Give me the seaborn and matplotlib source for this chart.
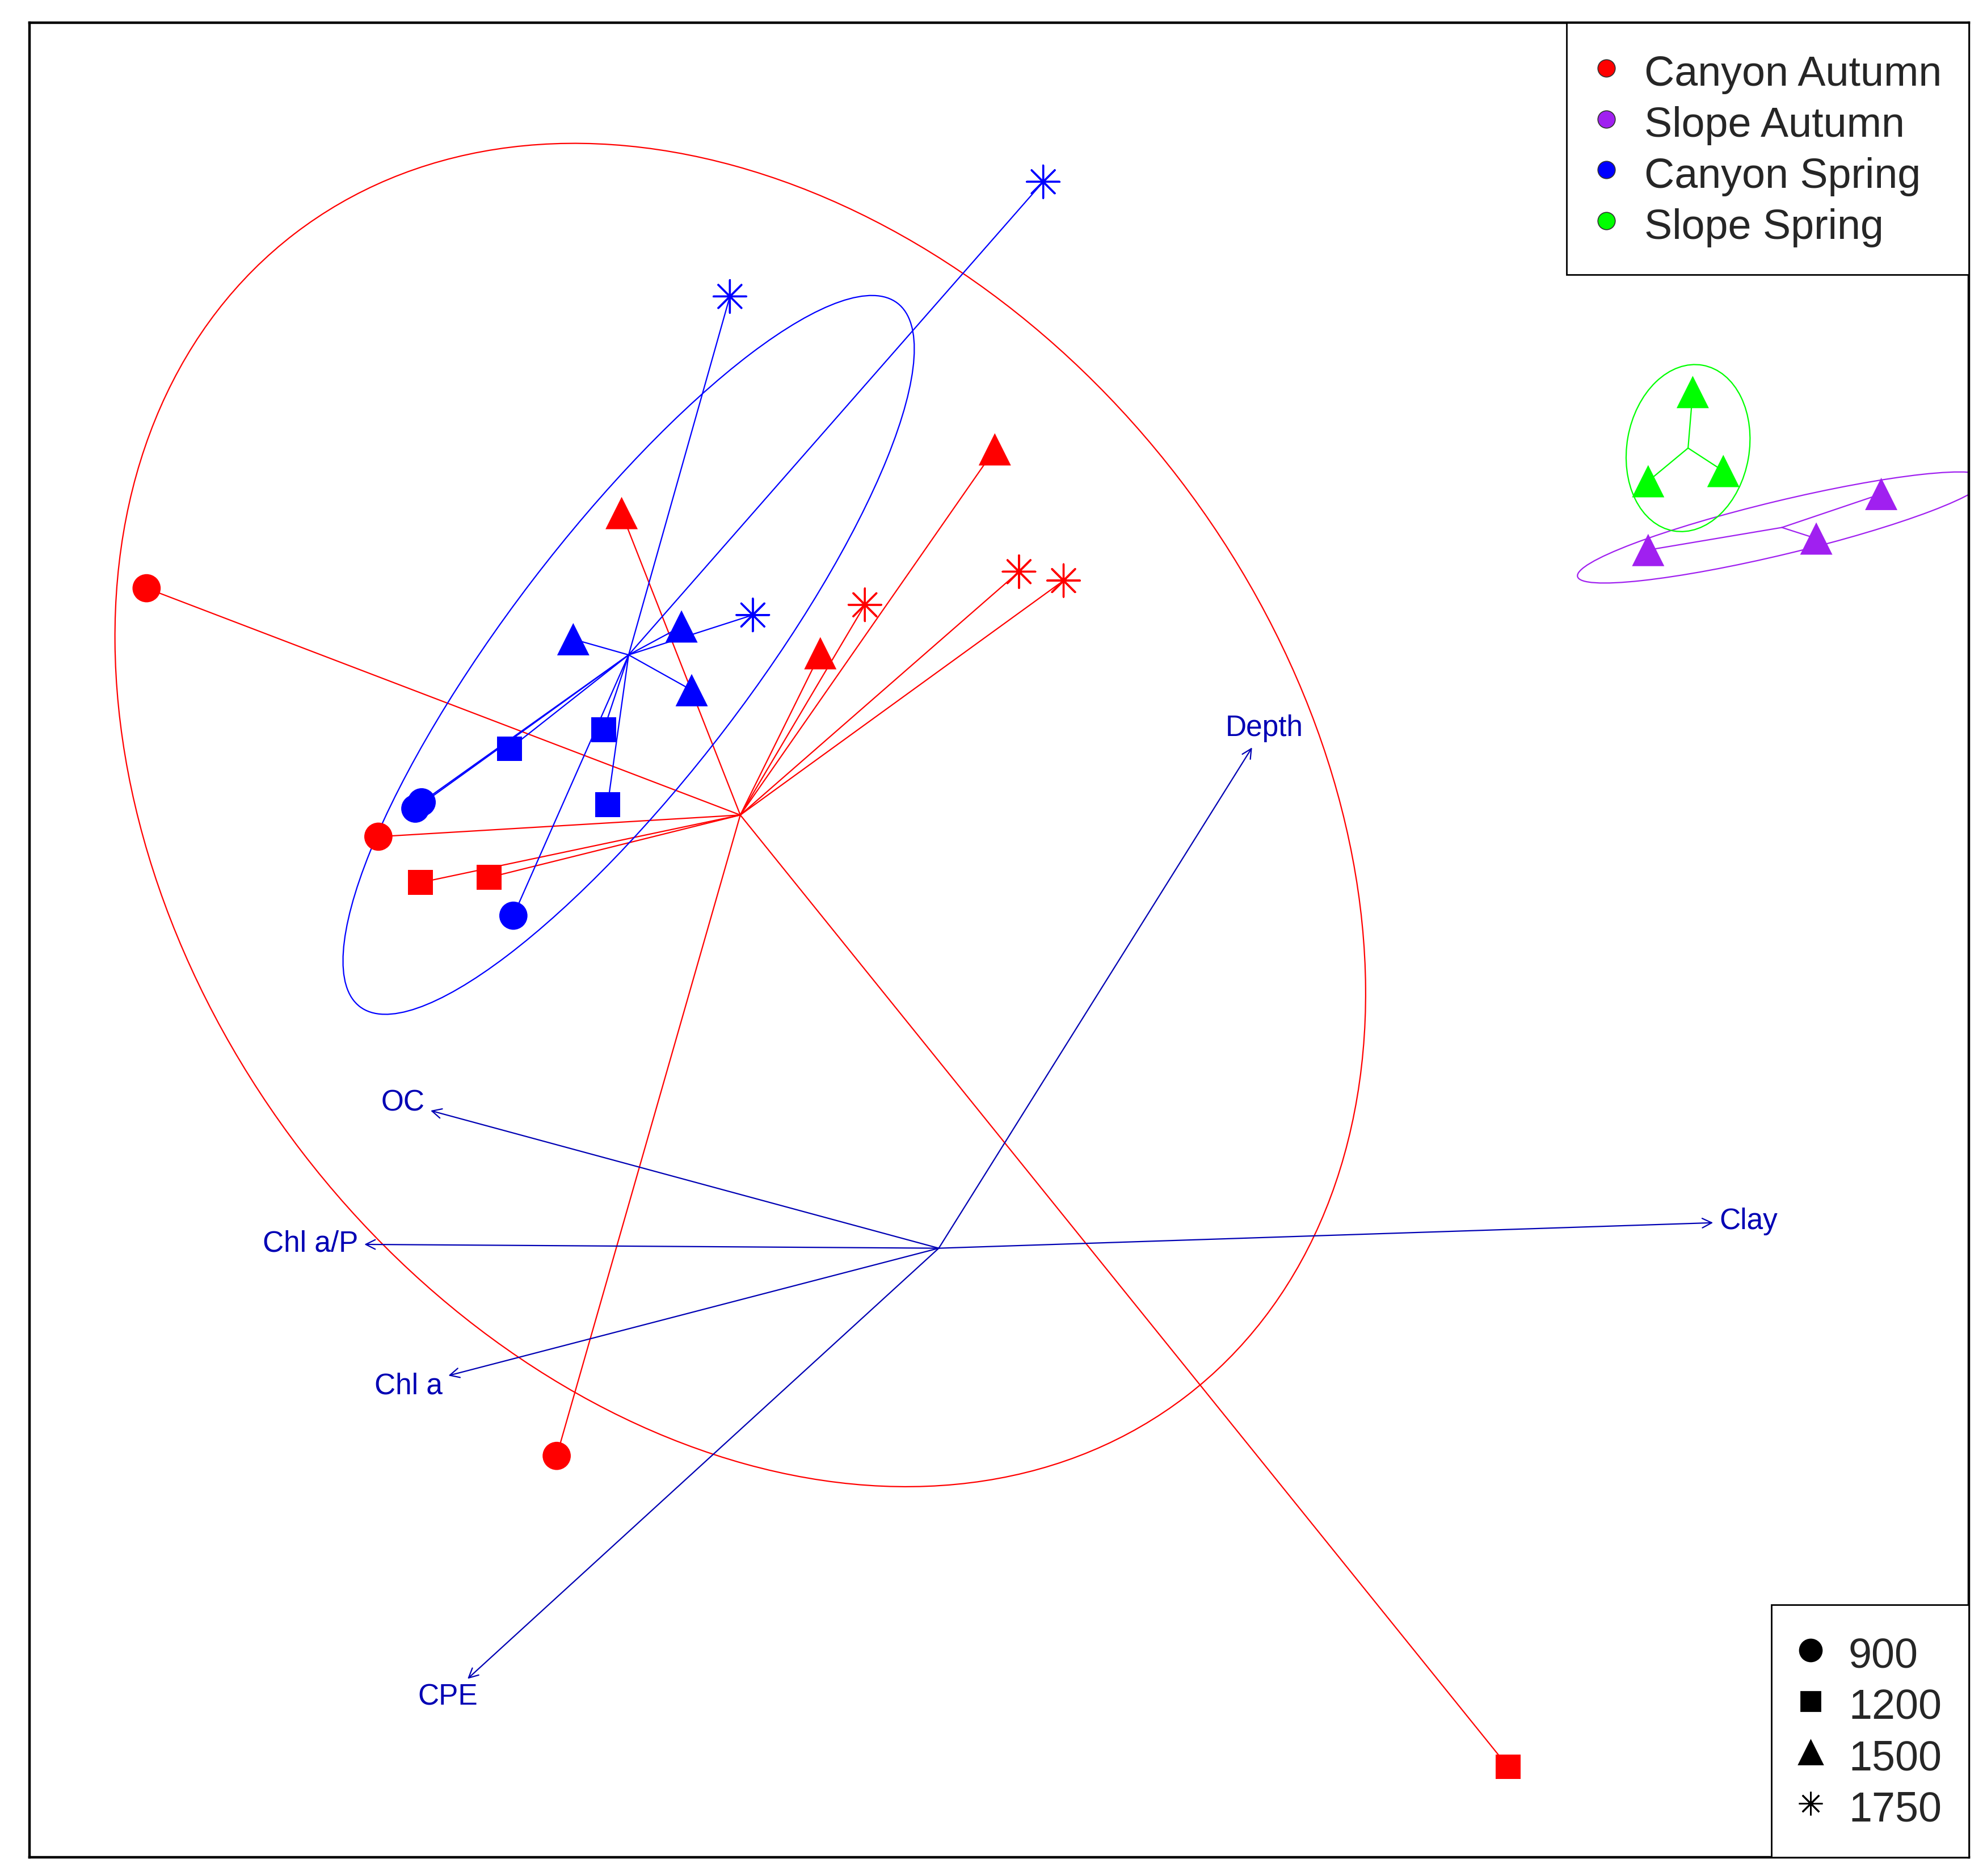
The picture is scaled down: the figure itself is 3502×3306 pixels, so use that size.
import numpy as np
import pandas as pd
import matplotlib
matplotlib.use("Agg")
import matplotlib.pyplot as plt
from matplotlib.patches import Ellipse
from matplotlib.lines import Line2D
import seaborn as sns

# groups and colours (R: red, purple, blue, green)
groups = ["Canyon Autumn", "Slope Autumn", "Canyon Spring", "Slope Spring"]
group_colors = ["#FF0000", "#A020F0", "#0000FF", "#00FF00"]
depth_levels = ["900", "1200", "1500", "1750"]

# NMDS site scores
ca_depth = ["900", "900", "900", "1200", "1200", "1200", "1500", "1500", "1500", "1750", "1750", "1750"]
ca_x = [-1.244, -0.880, -0.600, -0.814, -0.706, 0.894, -0.498, 0.088, -0.186, -0.116, 0.126, 0.196]
ca_y = [1.036, 0.646, -0.326, 0.574, 0.582, -0.814, 1.154, 1.254, 0.934, 1.010, 1.062, 1.048]

cs_depth = ["900", "900", "900", "1200", "1200", "1200", "1500", "1500", "1500", "1750", "1750", "1750"]
cs_x = [-0.822, -0.812, -0.668, -0.674, -0.526, -0.520, -0.574, -0.404, -0.388, -0.328, -0.292, 0.164]
cs_y = [0.690, 0.700, 0.522, 0.784, 0.814, 0.696, 0.956, 0.976, 0.876, 1.494, 0.994, 1.674]

sa_depth = ["1500", "1500", "1500"]
sa_x = [1.114, 1.378, 1.480]
sa_y = [1.096, 1.114, 1.184]

ss_depth = ["1500", "1500", "1500"]
ss_x = [1.184, 1.114, 1.232]
ss_y = [1.344, 1.204, 1.220]

# ordiellipse shapes (same order as groups)
ell_width = [2.30, 0.66, 1.39, 0.264]
ell_height = [1.736, 0.084, 0.382, 0.192]
ell_angle = [-52.5, 13.5, 52.6, 80.0]

# envfit vectors
env_labels = ["Depth", "Clay", "OC", "Chl a/P", "Chl a", "CPE"]
env_x = [0.492, 1.216, -0.798, -0.902, -0.770, -0.740]
env_y = [0.786, 0.040, 0.216, 0.006, -0.200, -0.676]

frames = []
for g, xs, ys, ds in [("Canyon Autumn", ca_x, ca_y, ca_depth),
                      ("Slope Autumn", sa_x, sa_y, sa_depth),
                      ("Canyon Spring", cs_x, cs_y, cs_depth),
                      ("Slope Spring", ss_x, ss_y, ss_depth)]:
    frames.append(pd.DataFrame({"NMDS1": xs, "NMDS2": ys, "depth": ds, "group": g}))
df = pd.concat(frames, ignore_index=True)

sns.set_style("white")
plt.rcParams["font.family"] = ["Liberation Sans", "DejaVu Sans"]

palette = dict(zip(groups, group_colors))
arrow_col = "#0000B4"

fig = plt.figure(figsize=(17.51, 16.53), dpi=200)
ax = fig.add_axes([0.0148, 0.0100, 0.9762, 0.978])
ax.set_xlim(-1.428, 1.618)
ax.set_ylim(-0.956, 1.924)

# spiders and ellipses
for i, g in enumerate(groups):
    sub = df[df.group == g]
    cx, cy = sub.NMDS1.mean(), sub.NMDS2.mean()
    for _, r in sub.iterrows():
        ax.plot([cx, r.NMDS1], [cy, r.NMDS2], color=group_colors[i], lw=0.8, zorder=2)
    ax.add_patch(Ellipse((cx, cy), ell_width[i], ell_height[i], angle=ell_angle[i],
                         fill=False, edgecolor=group_colors[i], lw=0.8, zorder=2))

# site points
filled = df[df.depth != "1750"]
sns.scatterplot(data=filled, x="NMDS1", y="NMDS2", hue="group", palette=palette,
                style="depth", markers={"900": "o", "1200": "s", "1500": "^"},
                size="depth", sizes={"900": 320, "1200": 250, "1500": 420},
                linewidth=0, legend=False, ax=ax, zorder=3)
stars = df[df.depth == "1750"]
sns.scatterplot(data=stars, x="NMDS1", y="NMDS2", hue="group", palette=palette,
                marker=(8, 2, 0), s=430, linewidth=1.2, legend=False, ax=ax, zorder=3)

# environmental arrows
for x, y in zip(env_x, env_y):
    ax.annotate("", xy=(x, y), xytext=(0, 0),
                arrowprops=dict(arrowstyle="->", color=arrow_col, lw=0.8,
                                shrinkA=0, shrinkB=0, mutation_scale=15), zorder=2)

ax.set_xlabel("")
ax.set_ylabel("")
ax.set_xticks([])
ax.set_yticks([])
for sp in ax.spines.values():
    sp.set_color("black")
    sp.set_linewidth(1.6)

# legends
leg_kw = dict(borderaxespad=0, fontsize=26.5, frameon=True, fancybox=False,
              edgecolor="black", framealpha=1, handlelength=0.56, handleheight=1.22,
              handletextpad=0.63, borderpad=0.66, labelspacing=0.16)

h1 = [Line2D([], [], ls="", marker="o", markersize=11, markerfacecolor=c,
             markeredgecolor="#333333", markeredgewidth=0.6) for c in group_colors]
leg1 = ax.legend(h1, groups, loc="upper right", **leg_kw)
leg1.get_frame().set_linewidth(1.0)
ax.add_artist(leg1)

h2 = [Line2D([], [], ls="", marker="o", markersize=14, color="black"),
      Line2D([], [], ls="", marker="s", markersize=12, color="black"),
      Line2D([], [], ls="", marker="^", markersize=15, color="black"),
      Line2D([], [], ls="", marker=(8, 2, 0), markersize=15, color="black", markeredgewidth=1.0)]
leg2 = ax.legend(h2, depth_levels, loc="lower right", **leg_kw)
leg2.get_frame().set_linewidth(1.0)

# vector labels just beyond arrow heads
fig.canvas.draw()
renderer = fig.canvas.get_renderer()
p0 = ax.transData.transform((0, 0))
for lab, x, y in zip(env_labels, env_x, env_y):
    t = ax.text(x, y, lab, ha="center", va="center", color=arrow_col, fontsize=18.5, zorder=4)
    bb = t.get_window_extent(renderer)
    hw, hh = bb.width / 2, bb.height / 2
    p1 = ax.transData.transform((x, y))
    u = (p1 - p0) / np.hypot(*(p1 - p0))
    dx = hw / abs(u[0]) if abs(u[0]) > 1e-9 else np.inf
    dy = hh / abs(u[1]) if abs(u[1]) > 1e-9 else np.inf
    d = min(dx, dy) + 11
    t.set_position(ax.transData.inverted().transform(p1 + d * u))

fig.savefig("out.png", dpi=200)
